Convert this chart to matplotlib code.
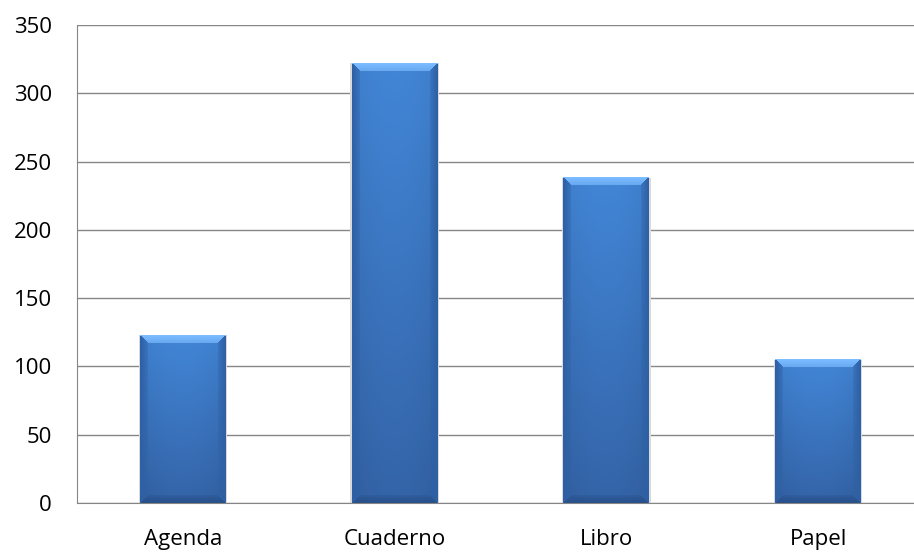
import numpy as np
import matplotlib
matplotlib.use('Agg')
import matplotlib.pyplot as plt

categories = ['Agenda', 'Cuaderno', 'Libro', 'Papel']
values = [123, 322, 238, 105]
yticks = [0, 50, 100, 150, 200, 250, 300, 350]

plt.rcParams['font.family'] = ['Open Sans', 'DejaVu Sans']

fig = plt.figure(figsize=(9.14, 5.52), dpi=100)
# plot area runs a little past the right edge of the picture
ax = fig.add_axes([77 / 914, 1 - 503 / 552, 847 / 914, 478 / 552])

grid_col = '#868686'
width = 0.406
bx = 0.036   # bevel size in x (data units)
by = 5.5     # bevel size in y (data units)

top_face = np.array([66, 134, 215]) / 255
bot_face = np.array([52, 100, 168]) / 255
bevel_top = np.array([104, 168, 238]) / 255
bevel_side = np.array([46, 96, 165]) / 255
bevel_bot = np.array([40, 80, 138]) / 255

x = np.arange(len(categories))
for xi, v in zip(x, values):
    x0, x1 = xi - width / 2, xi + width / 2
    ny, nx = int(v * 1.366), 86
    ys = np.linspace(v, 0, ny)[:, None] * np.ones((1, nx))
    xs = np.linspace(x0, x1, nx)[None, :] * np.ones((ny, 1))
    t = 1 - ys / v
    img = top_face * (1 - t[..., None]) + bot_face * t[..., None]
    # slight darkening toward the sides
    hs = np.abs((xs - xi) / (width / 2))
    img *= (1 - 0.06 * hs ** 2)[..., None]
    dl = (xs - x0) / bx
    dr = (x1 - xs) / bx
    dt = (v - ys) / by
    db = ys / by
    m = np.minimum(np.minimum(dl, dr), np.minimum(dt, db))
    edge = m < 1
    top = edge & (m == dt)
    side = edge & ((m == dl) | (m == dr)) & ~top
    bot = edge & (m == db) & ~top & ~side
    img[top] = bevel_top + 0.08 * (1 - dt[top])[:, None]
    w = (1 - m[side])[:, None] * 0.7 + 0.3
    img[side] = img[side] * (1 - w) + bevel_side * w
    w = (1 - m[bot])[:, None] * 0.7 + 0.3
    img[bot] = img[bot] * (1 - w) + bevel_bot * w
    # faint shadow around the bar
    ax.bar(xi, v, width=width + 0.012, color='#d9d9d9', zorder=2, linewidth=0)
    ax.imshow(np.clip(img, 0, 1), extent=[x0, x1, 0, v], aspect='auto',
              interpolation='bilinear', zorder=3)

ax.set_xlim(-0.5, len(categories) - 0.5)
ax.set_ylim(0, 350)
ax.set_yticks(yticks)
ax.set_xticks(x)
ax.set_xticklabels(categories)
ax.yaxis.grid(True, color=grid_col, linewidth=1)
ax.set_axisbelow(True)
ax.tick_params(length=0, labelsize=16, colors='black')
ax.tick_params(axis='y', pad=18)
ax.tick_params(axis='x', pad=19)
for s in ['top', 'right']:
    ax.spines[s].set_visible(False)
ax.spines['left'].set_color(grid_col)
ax.spines['bottom'].set_color(grid_col)
ax.spines['bottom'].set_zorder(4)

fig.savefig('out.png', dpi=100)
